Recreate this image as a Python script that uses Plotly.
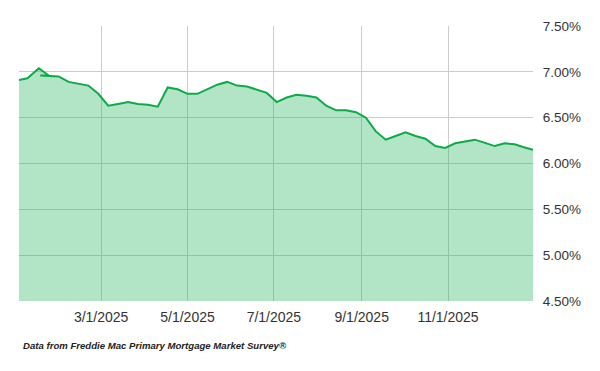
import plotly.graph_objects as go

dates = [
    "2025-01-02", "2025-01-08", "2025-01-16", "2025-01-23", "2025-01-17", "2025-01-30",
    "2025-02-06", "2025-02-13", "2025-02-20", "2025-02-27",
    "2025-03-06", "2025-03-13", "2025-03-20", "2025-03-27",
    "2025-04-03", "2025-04-10", "2025-04-17", "2025-04-24",
    "2025-05-01", "2025-05-08", "2025-05-15", "2025-05-22", "2025-05-29",
    "2025-06-05", "2025-06-12", "2025-06-18", "2025-06-26",
    "2025-07-03", "2025-07-10", "2025-07-17", "2025-07-24", "2025-07-31",
    "2025-08-07", "2025-08-14", "2025-08-21", "2025-08-28",
    "2025-09-04", "2025-09-11", "2025-09-18", "2025-09-25",
    "2025-10-02", "2025-10-09", "2025-10-16", "2025-10-23", "2025-10-30",
    "2025-11-06", "2025-11-13", "2025-11-20", "2025-11-26",
    "2025-12-04", "2025-12-11", "2025-12-18", "2025-12-24", "2025-12-31",
]
rates = [
    6.91, 6.93, 7.04, 6.96, 6.96, 6.95,
    6.89, 6.87, 6.85, 6.76,
    6.63, 6.65, 6.67, 6.65,
    6.64, 6.62, 6.83, 6.81,
    6.76, 6.76, 6.81, 6.86, 6.89,
    6.85, 6.84, 6.81, 6.77,
    6.67, 6.72, 6.75, 6.74, 6.72,
    6.63, 6.58, 6.58, 6.56,
    6.50, 6.35, 6.26, 6.30,
    6.34, 6.30, 6.27, 6.19, 6.17,
    6.22, 6.24, 6.26, 6.23,
    6.19, 6.22, 6.21, 6.18, 6.15,
]

x_tick_vals = ["2025-03-01", "2025-05-01", "2025-07-01", "2025-09-01", "2025-11-01"]
x_tick_text = ["3/1/2025", "5/1/2025", "7/1/2025", "9/1/2025", "11/1/2025"]
y_tick_vals = [4.5, 5.0, 5.5, 6.0, 6.5, 7.0, 7.5]
y_tick_text = ["4.50%", "5.00%", "5.50%", "6.00%", "6.50%", "7.00%", "7.50%"]

fig = go.Figure()
fig.add_trace(go.Scatter(
    x=dates, y=rates, mode="lines", fill="tozeroy",
    fillcolor="rgba(30,180,85,0.34)",
    line=dict(color="#0cab48", width=2),
    hoverinfo="x+y",
))

fig.update_layout(
    width=600, height=371,
    margin=dict(l=11, r=75, t=18, b=78),
    plot_bgcolor="white", paper_bgcolor="white",
    showlegend=False,
    font=dict(family="Liberation Sans, Arial, sans-serif", size=13, color="#333"),
    xaxis=dict(
        range=["2025-01-02", "2025-12-31"],
        tickvals=x_tick_vals, ticktext=x_tick_text,
        showgrid=True, gridcolor="#cccccc", gridwidth=1,
        zeroline=False, showline=False,
        ticks="outside", ticklen=3, tickcolor="rgba(0,0,0,0)",
        tickfont=dict(size=14, color="#333"),
    ),
    yaxis=dict(
        side="right", range=[4.5, 7.5],
        tickvals=y_tick_vals, ticktext=y_tick_text,
        showgrid=True, gridcolor="#cccccc", gridwidth=1,
        zeroline=False, showline=False,
        ticks="outside", ticklen=6, tickcolor="rgba(0,0,0,0)",
        tickfont=dict(size=13.5, color="#333"),
    ),
    annotations=[dict(
        text="<i><b>Data from Freddie Mac Primary Mortgage Market Survey®</b></i>",
        xref="paper", yref="paper", x=0.004, y=-0.16, xanchor="left", yanchor="middle",
        showarrow=False, font=dict(size=9.6, color="#222"),
    )],
)

fig.write_html("out.html")
